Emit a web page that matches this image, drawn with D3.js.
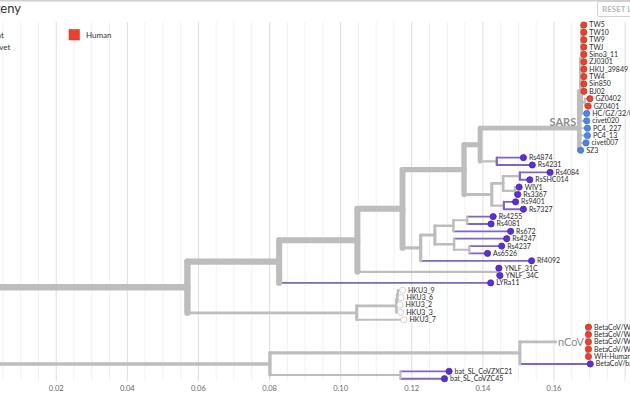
<!DOCTYPE html>
<html><head><meta charset="utf-8">
<script src="https://cdn.jsdelivr.net/npm/d3@7"></script>
<style>
html,body{margin:0;padding:0;background:#fff;overflow:hidden}
svg{display:block;font-family:Lato,"Open Sans",sans-serif}
</style></head><body>
<svg id="chart" width="630" height="400"></svg>
<script>
// ---- tree data (pre-order): id, parent, divergence, host ----
const nodeIds = ["root","nA","nB","nC","nD","nE","nG","nSARS","nHG","nHum",
 "TW5","TW10","TW9","TWJ","Sino3_11","ZJ0301","HKU_39849","TW4","Sin850","BJ02",
 "nGZ","GZ0402","GZ0401","HC/GZ/32/03","civet020","PC4_227","PC4_13","civet007","SZ3",
 "nRs48","Rs4874","Rs4231","nH","nI","nRs40","Rs4084","RsSHC014","nWIV","WIV1","Rs3367",
 "nRs94","Rs9401","Rs7327","nF","nJ","nK","nRs42","Rs4255","Rs4081","Rs672",
 "nL","Rs4247","nRs37","Rs4237","As6526","Rf4092","nYN","YNLF_31C","YNLF_34C","LYRa11",
 "nHKU","nHK1","nHK2","nHK3","HKU3_9","HKU3_6","HKU3_2","HKU3_3","HKU3_7",
 "nN","nCoV","nRed","BetaCoV/Wuhan/IVDC-HB-01/2019","BetaCoV/Wuhan/IVDC-HB-04/2020",
 "BetaCoV/Wuhan/IVDC-HB-05/2019","BetaCoV/Wuhan/WIV04/2019","WH-Human_1",
 "BetaCoV/bat/Yunnan/RaTG13/2013","nBat","bat_SL_CoVZXC21","bat_SL_CoVZC45"];
const nodeParents = ["","root","nA","nB","nC","nD","nE","nG","nSARS","nHG",
 "nHum","nHum","nHum","nHum","nHum","nHum","nHum","nHum","nHum","nHum",
 "nHG","nGZ","nGZ","nHG","nSARS","nSARS","nSARS","nSARS","nSARS",
 "nG","nRs48","nRs48","nE","nH","nI","nRs40","nRs40","nI","nWIV","nWIV",
 "nH","nRs94","nRs94","nD","nF","nJ","nK","nRs42","nRs42","nK",
 "nJ","nL","nL","nRs37","nRs37","nF","nC","nYN","nYN","nB",
 "nA","nHKU","nHK1","nHK2","nHK3","nHK3","nHK2","nHK1","nHKU",
 "root","nN","nCoV","nRed","nRed","nRed","nRed","nRed",
 "nCoV","nN","nBat","nBat"];
const nodeDivs = [0,0.0569,0.0827,0.1047,0.1174,0.1347,0.1392,0.1671,0.1676,0.1679,
 0.1684,0.1684,0.1684,0.1684,0.1684,0.1684,0.1684,0.1684,0.1684,0.1684,
 0.1687,0.1701,0.1696,0.1692,0.1692,0.1694,0.1694,0.1690,0.1675,
 0.1439,0.1514,0.1539,0.1425,0.1457,0.1504,0.1589,0.1532,0.1490,0.1502,0.1498,
 0.1459,0.1492,0.1514,0.1225,0.1265,0.1317,0.1356,0.1429,0.1423,0.1478,
 0.1319,0.1467,0.1362,0.1453,0.1413,0.1537,0.1440,0.1445,0.1448,0.1422,
 0.1045,0.1157,0.1159,0.1161,0.1174,0.1170,0.1167,0.1169,0.1178,
 0.0801,0.1504,0.1693,0.1697,0.1697,0.1697,0.1697,0.1697,
 0.1702,0.1168,0.1305,0.1292];
const nodeHosts = ["","","","","","","","","","",
 "Human","Human","Human","Human","Human","Human","Human","Human","Human","Human",
 "","Human","Human","Civet","Civet","Civet","Civet","Civet","Civet",
 "Bat","Bat","Bat","","","Bat","Bat","Bat","","Bat","Bat",
 "Bat","Bat","Bat","","","","","Bat","Bat","Bat",
 "","Bat","","Bat","Bat","Bat","","Bat","Bat","Bat",
 "","","","","","","","","",
 "","","","Human","Human","Human","Human","Human",
 "Bat","","Bat","Bat"];
const cladeNodes = ["nSARS","nRed"];
const cladeNames = ["SARS","nCoV"];
const axisTicks = [0.02,0.04,0.06,0.08,0.10,0.12,0.14,0.16];
const legendNames = ["Bat","Civet","Human"];

// ---- styles ----
const W = 630, H = 400;
const dotColor = {Bat:"#5a2fd5", Civet:"#4f84e2", Human:"#e9412f", "":"#ffffff"};
const dotStroke = {Bat:"#4b25b8", Civet:"#3f72cc", Human:"#cf3323", "":"#c8c8c8"};
const lineColor = {Bat:"#7d64cc", Civet:"#b7c3da", Human:"#d9b3ae", "":"#bdbdbd"};

const svg = d3.select("#chart");
const x = d3.scaleLinear().domain([0.02, 0.16]).range([56.2, 554.0]);
const y = d3.scaleLinear().domain([0, 48]).range([25, 378.7]);

// top border
svg.append("line").attr("x1",0).attr("x2",W).attr("y1",0.5).attr("y2",0.5)
  .attr("stroke","#cfcfcf").attr("stroke-width",2);

// title
svg.append("text").attr("x",21).attr("y",13).attr("text-anchor","end")
  .attr("font-size",13).attr("fill","#333").text("Phylogeny");

// reset button
svg.append("rect").attr("x",597.5).attr("y",1.5).attr("width",60).attr("height",15)
  .attr("rx",2).attr("fill","#fff").attr("stroke","#d0d0d0");
svg.append("text").attr("x",602).attr("y",12).attr("font-size",8).attr("font-weight",700)
  .attr("fill","#b8b8b8").text("RESET LAYOUT");

// grid
const gTop = 22, gBot = 381;
const minor = d3.range(0, 0.19, 0.005).filter(v => Math.abs(v/0.02 - Math.round(v/0.02)) > 1e-6);
svg.append("g").selectAll("line").data(minor).join("line")
  .attr("x1",d=>x(d)).attr("x2",d=>x(d)).attr("y1",gTop).attr("y2",gBot)
  .attr("stroke","#f1f1f1").attr("stroke-width",1);
svg.append("g").selectAll("line").data(d3.range(0,0.19,0.02)).join("line")
  .attr("x1",d=>x(d)).attr("x2",d=>x(d)).attr("y1",gTop).attr("y2",gBot)
  .attr("stroke","#dedede").attr("stroke-width",1);
svg.append("g").selectAll("text").data(axisTicks).join("text")
  .attr("x",d=>x(d)).attr("y",391).attr("text-anchor","middle")
  .attr("font-size",7.5).attr("fill","#666").text(d=>d.toFixed(2));

// legend
const legX = [-8, -8, 86], legY = [37.5, 50, 37.5];
legendNames.forEach((n,i)=>{
  svg.append("rect").attr("x",legX[i]-17).attr("y",legY[i]-8).attr("width",10.5).attr("height",10.5)
    .attr("fill",dotColor[n]).attr("stroke",dotStroke[n]).attr("stroke-width",0.5);
  svg.append("text").attr("x",legX[i]).attr("y",legY[i]).attr("font-size",8).attr("fill","#333").text(n);
});

// tree
const table = nodeIds.map((id,i)=>({id, parent:nodeParents[i], div:nodeDivs[i], host:nodeHosts[i]}));
const root = d3.stratify().id(d=>d.id).parentId(d=>d.parent||null)(table);
root.leaves().forEach((l,i)=>{ l.py = y(i); });
root.eachAfter(n=>{ if(n.children) n.py = d3.mean(n.children, c=>c.py); n.px = x(n.data.div); n.tips = n.leaves().length; });
const thick = n => 1 + 0.85*Math.sqrt(n.tips);

const gB = svg.append("g").attr("fill","none").attr("stroke-linecap","round");
const nodes = root.descendants().filter(n=>n.parent);
// stems
gB.selectAll("path.stem").data(nodes).join("path").attr("class","stem")
  .attr("d",n=>`M${n.parent.px},${n.py}L${n.px},${n.py}`)
  .attr("stroke",n=>n.children ? lineColor[""] : lineColor[n.data.host])
  .attr("stroke-width",thick);
// verticals
gB.selectAll("path.tee").data(root.descendants().filter(n=>n.children)).join("path").attr("class","tee")
  .attr("d",n=>`M${n.px},${n.children[0].py}L${n.px},${n.children[n.children.length-1].py}`)
  .attr("stroke",n=>lineColor[n.data.host])
  .attr("stroke-width",thick);

// clade labels
const gC = svg.append("g");
cladeNodes.forEach((id,i)=>{
  const n = root.find(d=>d.id===id);
  const bg = gC.append("rect").attr("fill","#fff");
  const t = gC.append("text").attr("x",n.px-3).attr("y",n.py+(i===0?-2.5:4))
    .attr("text-anchor","end").attr("font-size",11).attr("font-weight",i===0?700:400)
    .attr("fill","#8c8c8c").text(cladeNames[i]);
  if(i===1){ const b=t.node().getBBox();
    bg.attr("x",b.x-1).attr("y",n.py-3).attr("width",b.width+1).attr("height",6); }
});

// tips
const tips = root.leaves();
svg.append("g").selectAll("circle").data(tips).join("circle")
  .attr("cx",n=>n.px).attr("cy",n=>n.py).attr("r",3.1)
  .attr("fill",n=>dotColor[n.data.host]).attr("stroke",n=>dotStroke[n.data.host]).attr("stroke-width",0.8);
svg.append("g").selectAll("text").data(tips).join("text")
  .attr("x",n=>n.px+5.5).attr("y",n=>n.py).attr("dy","0.35em")
  .attr("font-size",7).attr("fill","#2a2a2a").text(n=>n.id);
</script>
</body></html>
